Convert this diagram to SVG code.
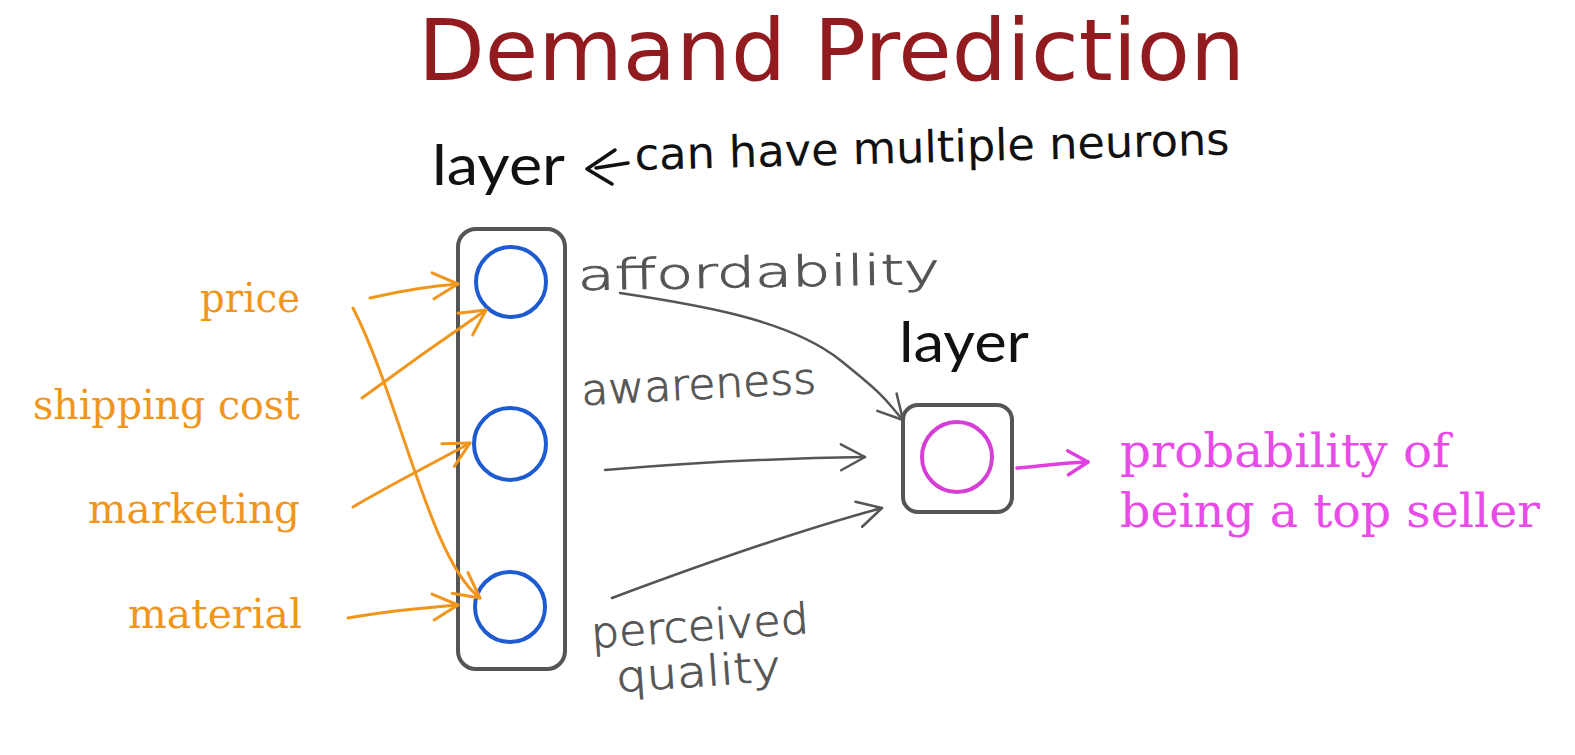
<svg xmlns="http://www.w3.org/2000/svg" width="1575" height="755" viewBox="0 0 1575 755">
<defs>
<style>
.title{font-family:"DejaVu Sans","Liberation Sans",sans-serif;font-size:86px;fill:#921B1F}
.layer{font-family:Lato,"Open Sans","Liberation Sans",sans-serif;font-size:56px;fill:#111}
.note{font-family:"DejaVu Sans","Liberation Sans",sans-serif;font-size:44px;fill:#111}
.hand{font-family:"DejaVu Sans","Liberation Sans",sans-serif;font-weight:200;font-size:42px;fill:#555;stroke:#555;stroke-width:0.9}
.inp{font-family:"DejaVu Serif","Liberation Serif",serif;font-size:41px;fill:#F0961C;text-anchor:end}
.out{font-family:"DejaVu Serif","Liberation Serif",serif;font-size:46px;fill:#E84BE8}
.box{fill:none;stroke:#555;stroke-width:4}
.neuron{fill:none;stroke:#1E5BD0;stroke-width:4}
.oneuron{fill:none;stroke:#D63FD6;stroke-width:4}
.oc{fill:none;stroke:#F0961C;stroke-width:3;stroke-linecap:round;marker-end:url(#ao)}
.gc{fill:none;stroke:#555;stroke-width:2.5;stroke-linecap:round;marker-end:url(#ag)}
.mc{fill:none;stroke:#E040E0;stroke-width:3.5;stroke-linecap:round;marker-end:url(#am)}
</style>
<marker id="ao" markerUnits="userSpaceOnUse" markerWidth="34" markerHeight="34" viewBox="0 0 34 34" refX="31" refY="17" orient="auto"><path d="M6,4 L31,17 L6,30" fill="none" stroke="#F0961C" stroke-width="3" stroke-linecap="round" stroke-linejoin="round"/></marker>
<marker id="ag" markerUnits="userSpaceOnUse" markerWidth="36" markerHeight="36" viewBox="0 0 36 36" refX="32" refY="18" orient="auto"><path d="M8,5 L32,18 L8,31" fill="none" stroke="#555" stroke-width="2.5" stroke-linecap="round" stroke-linejoin="round"/></marker>
<marker id="am" markerUnits="userSpaceOnUse" markerWidth="32" markerHeight="32" viewBox="0 0 32 32" refX="28" refY="16" orient="auto"><path d="M8,4 L28,16 L8,28" fill="none" stroke="#E040E0" stroke-width="3.5" stroke-linecap="round" stroke-linejoin="round"/></marker>
</defs>
<rect width="1575" height="755" fill="#fff"/>

<g id="title"><text class="title" x="418" y="80" textLength="827" lengthAdjust="spacingAndGlyphs">Demand Prediction</text></g>

<g id="layer1-label"><text class="layer" x="432" y="185" textLength="133" lengthAdjust="spacingAndGlyphs">layer</text></g>
<g id="layer1-note"><text class="note" x="635" y="170" textLength="595" lengthAdjust="spacingAndGlyphs" transform="rotate(-1.5 635 170)">can have multiple neurons</text></g>

<g id="hidden-layer">
<rect class="box" x="458" y="229" width="107" height="440" rx="18"/>
<circle id="n1" class="neuron" cx="511" cy="282" r="35"/>
<circle id="n2" class="neuron" cx="510" cy="444" r="36"/>
<circle id="n3" class="neuron" cx="510" cy="607" r="35"/>
</g>

<g id="output-layer">
<text class="layer" x="899" y="362" textLength="130" lengthAdjust="spacingAndGlyphs">layer</text>
<rect class="box" x="903" y="405" width="109" height="107" rx="15"/>
<circle id="n-out" class="oneuron" cx="957" cy="457" r="35"/>
</g>

<g id="inputs">
<text id="in-price" class="inp" x="300" y="312" textLength="100" lengthAdjust="spacingAndGlyphs">price</text>
<text id="in-shipping" class="inp" x="300" y="419" textLength="267" lengthAdjust="spacingAndGlyphs">shipping cost</text>
<text id="in-marketing" class="inp" x="300" y="523" textLength="212" lengthAdjust="spacingAndGlyphs">marketing</text>
<text id="in-material" class="inp" x="302" y="628" textLength="174" lengthAdjust="spacingAndGlyphs">material</text>
</g>

<g id="activations">
<text id="a-afford" class="hand" x="578" y="290" textLength="362" lengthAdjust="spacingAndGlyphs" transform="rotate(-1 578 290)">affordability</text>
<text id="a-aware" class="hand" x="582" y="405" textLength="235" lengthAdjust="spacingAndGlyphs" transform="rotate(-3 582 405)">awareness</text>
<text id="a-perc1" class="hand" x="592" y="648" textLength="218" lengthAdjust="spacingAndGlyphs" transform="rotate(-4 592 648)">perceived</text>
<text id="a-perc2" class="hand" x="617" y="692" textLength="165" lengthAdjust="spacingAndGlyphs" transform="rotate(-4 617 692)">quality</text>
</g>

<g id="output-label">
<text class="out" x="1120" y="467" textLength="330" lengthAdjust="spacingAndGlyphs">probability of</text>
<text class="out" x="1120" y="527" textLength="420" lengthAdjust="spacingAndGlyphs">being a top seller</text>
</g>

<g id="connectors">
<path class="oc" d="M370,298 C400,291 430,286 458,284"/>
<path class="oc" d="M362,398 C400,370 445,338 486,310"/>
<path class="oc" d="M353,507 C390,485 430,465 470,443"/>
<path class="oc" d="M348,618 C380,612 420,608 458,605"/>
<path class="oc" d="M353,308 C400,400 430,560 480,598"/>
<path class="gc" d="M620,293 C700,305 790,320 840,360 S885,400 903,420"/>
<path class="gc" d="M605,470 C700,462 780,458 865,457"/>
<path class="gc" d="M612,598 C700,565 800,530 882,508"/>
<path class="mc" d="M1017,468 C1040,466 1060,463 1088,462"/>
<path fill="none" stroke="#111" stroke-width="3.5" stroke-linecap="round" stroke-linejoin="round" d="M615,150 L587,169 L612,184 M596,168 L628,163"/>
</g>
</svg>
